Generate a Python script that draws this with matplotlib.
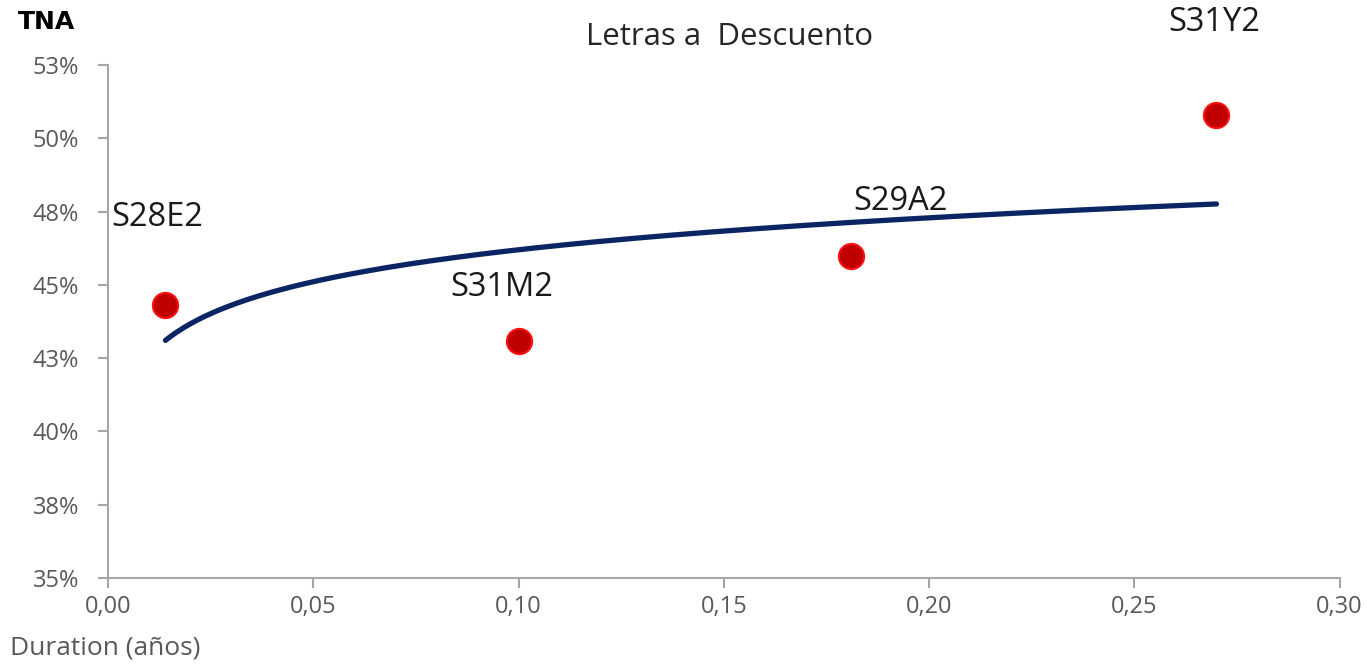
import numpy as np
import matplotlib
matplotlib.use("Agg")
import matplotlib.pyplot as plt
from matplotlib.ticker import FuncFormatter
import math

# Data
names = ["S28E2", "S31M2", "S29A2", "S31Y2"]
duration = [0.014, 0.100, 0.181, 0.270]
tna = [44.3, 43.1, 46.0, 50.8]
label_pos = [(0.012, 47.3), (0.096, 44.9), (0.193, 47.85), (0.2695, 53.95)]
y_ticks = [35, 37.5, 40, 42.5, 45, 47.5, 50, 52.5]
x_ticks = [0.00, 0.05, 0.10, 0.15, 0.20, 0.25, 0.30]

plt.rcParams['font.family'] = ['Open Sans', 'DejaVu Sans']

fig = plt.figure(figsize=(13.67, 6.64), dpi=100)
ax = fig.add_axes([0.079, 0.1295, 0.901, 0.7725])

# logarithmic trendline fitted to the points
b, a = np.polyfit(np.log(duration), tna, 1)
xs = np.linspace(min(duration), max(duration), 300)
ax.plot(xs, a + b * np.log(xs), color='#0b2463', lw=3.8, solid_capstyle='round', zorder=2)

ax.scatter(duration, tna, s=330, color='#c00000', edgecolors='#ff1010', linewidths=1.5, zorder=3)

for n, (lx, ly) in zip(names, label_pos):
    ax.text(lx, ly, n, ha='center', va='center', fontsize=23.5, color='#1a1a1a', zorder=4)

ax.set_xlim(0, 0.30)
ax.set_ylim(35, 52.5)
ax.set_xticks(x_ticks)
ax.set_yticks(y_ticks)
ax.xaxis.set_major_formatter(FuncFormatter(lambda v, p: f"{v:.2f}".replace('.', ',')))
ax.yaxis.set_major_formatter(FuncFormatter(lambda v, p: f"{math.floor(v + 0.5)}%"))

for s in ['top', 'right']:
    ax.spines[s].set_visible(False)
for s in ['left', 'bottom']:
    ax.spines[s].set_color('#a6a6a6')
    ax.spines[s].set_linewidth(1.5)
ax.tick_params(axis='both', direction='out', length=7, width=1.5, color='#a6a6a6',
               labelcolor='#595959', labelsize=17)
ax.tick_params(axis='y', pad=14)
ax.tick_params(axis='x', pad=5)

fig.text(0.534, 0.944, "Letras a  Descuento", ha='center', va='center', fontsize=22.5, color='#262626')
fig.text(0.013, 0.967, "TNA", ha='left', va='center', fontsize=18, fontweight='black',
         color='#000000', family=['DejaVu Sans'])
fig.text(0.007, 0.024, "Duration (años)", ha='left', va='center', fontsize=19, color='#595959')

fig.savefig("out.png", dpi=100)
